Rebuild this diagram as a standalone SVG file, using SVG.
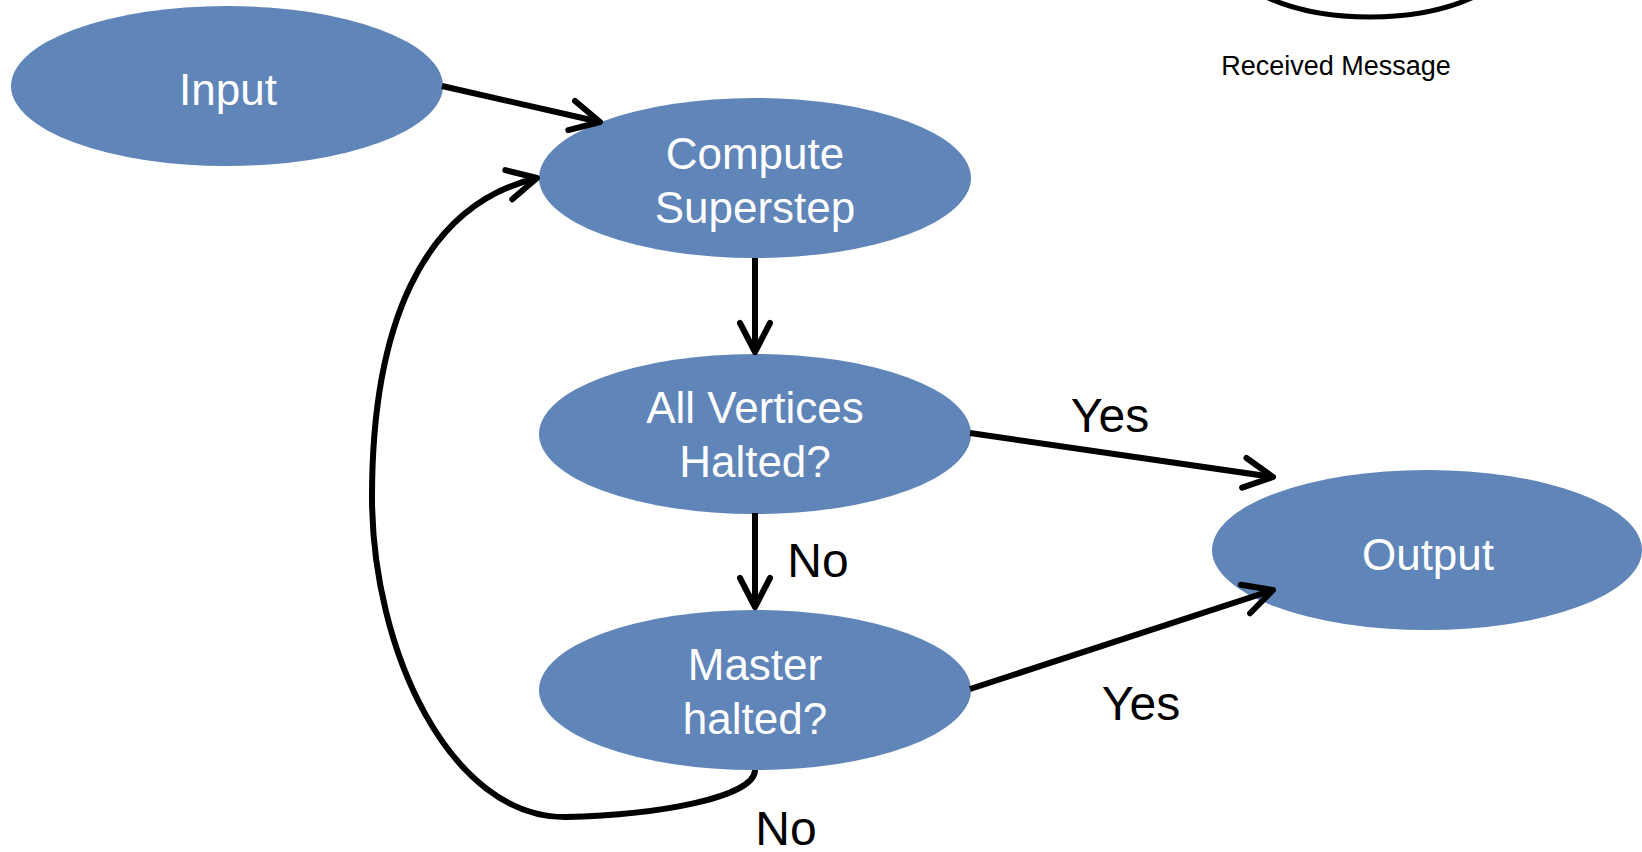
<svg xmlns="http://www.w3.org/2000/svg" width="1642" height="852" viewBox="0 0 1642 852">
<style>
.node{fill:#6085B8;}
.nt{font-family:"Liberation Sans",Arial,sans-serif;font-size:44px;fill:#ffffff;text-anchor:middle;}
.lbl{font-family:"Liberation Sans",Arial,sans-serif;font-size:48px;fill:#000000;text-anchor:middle;}
.edge{fill:none;stroke:#000000;stroke-width:6;}
</style>
<defs>
<marker id="arr" markerUnits="userSpaceOnUse" markerWidth="60" markerHeight="60" viewBox="-40 -30 60 60" refX="0" refY="0" orient="auto" overflow="visible">
<path d="M -29,-15 L 0,0 L -29,15" fill="none" stroke="#000000" stroke-width="6" stroke-linecap="round" stroke-linejoin="round"/>
</marker>
</defs>
<rect width="1642" height="852" fill="#ffffff"/>
<g id="received-message">
<ellipse cx="1370" cy="-55" rx="150" ry="72" fill="none" stroke="#000000" stroke-width="5"/>
<text x="1336" y="75" font-family="Liberation Sans, Arial, sans-serif" font-size="27" text-anchor="middle" fill="#000000">Received Message</text>
</g>
<g id="input">
<ellipse class="node" cx="227" cy="86" rx="216" ry="80"/>
<text class="nt" x="228" y="105">Input</text>
</g>
<g id="compute">
<ellipse class="node" cx="755" cy="178" rx="216" ry="80"/>
<text class="nt" x="755" y="169">Compute</text>
<text class="nt" x="755" y="223">Superstep</text>
</g>
<g id="all-halted">
<ellipse class="node" cx="755" cy="434" rx="216" ry="80"/>
<text class="nt" x="755" y="423">All Vertices</text>
<text class="nt" x="755" y="477">Halted?</text>
</g>
<g id="master-halted">
<ellipse class="node" cx="755" cy="690" rx="216" ry="80"/>
<text class="nt" x="755" y="680">Master</text>
<text class="nt" x="755" y="734">halted?</text>
</g>
<g id="output">
<ellipse class="node" cx="1427" cy="550" rx="215" ry="80"/>
<text class="nt" x="1428" y="570">Output</text>
</g>
<g id="connectors">
<line class="edge" x1="442" y1="86" x2="600" y2="122" marker-end="url(#arr)"/>
<line class="edge" x1="755" y1="258" x2="755" y2="352" marker-end="url(#arr)"/>
<line class="edge" x1="755" y1="513" x2="755" y2="607" marker-end="url(#arr)"/>
<line class="edge" x1="970" y1="433" x2="1273" y2="477" marker-end="url(#arr)"/>
<line class="edge" x1="970" y1="689" x2="1273" y2="590" marker-end="url(#arr)"/>
<path class="edge" d="M 755,770 C 755,797 660,815 565,817 C 450,817 372,650 372,497 C 372,330 420,206 537,178" marker-end="url(#arr)"/>
<text class="lbl" x="1110" y="432">Yes</text>
<text class="lbl" x="818" y="577">No</text>
<text class="lbl" x="1141" y="720">Yes</text>
<text class="lbl" x="786" y="845">No</text>
</g>
</svg>
